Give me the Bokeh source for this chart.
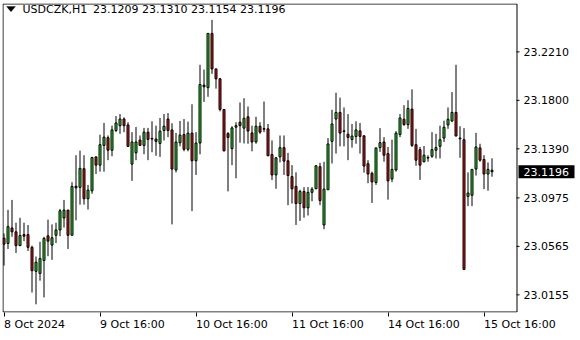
from bokeh.plotting import figure
from bokeh.core.properties import value
from bokeh.models import (FixedTicker, Range1d, Label, PolyAnnotation, LabelSet,
                          ColumnDataSource)
from bokeh.embed import file_html
from bokeh.resources import INLINE

symbol = "USDCZK,H1"
tick_bars = [0, 24, 48, 72, 96, 120]
tick_labels = ["8 Oct 2024", "9 Oct 16:00", "10 Oct 16:00", "11 Oct 16:00",
               "14 Oct 16:00", "15 Oct 16:00"]
price_ticks = [23.2210, 23.1800, 23.1390, 23.0975, 23.0565, 23.0155]

open_ = [23.0634, 23.0590, 23.0721, 23.0688, 23.0571, 23.0665, 23.0665, 23.0557, 23.0354, 23.0337,
         23.0446, 23.0654, 23.0576, 23.0659, 23.0704, 23.0805, 23.0872, 23.0659, 23.1074, 23.1064,
         23.1222, 23.0968, 23.1035, 23.1322, 23.1252, 23.1419, 23.1484, 23.1378, 23.1545, 23.1586,
         23.1642, 23.1592, 23.1261, 23.1356, 23.1464, 23.1419, 23.1531, 23.1478, 23.1473, 23.1436,
         23.1545, 23.1642, 23.1550, 23.1211, 23.1442, 23.1511, 23.1386, 23.1523, 23.1289, 23.1439,
         23.1929, 23.1907, 23.2366, 23.2066, 23.1982, 23.1723, 23.1519, 23.1392, 23.1573, 23.1615,
         23.1565, 23.1661, 23.1525, 23.1448, 23.1581, 23.1561, 23.1559, 23.1342, 23.1169, 23.1322,
         23.1400, 23.1289, 23.1155, 23.1072, 23.0927, 23.1030, 23.0891, 23.1022, 23.1052, 23.1239,
         23.0746, 23.1044, 23.1453, 23.1642, 23.1698, 23.1542, 23.1514, 23.1469, 23.1495, 23.1542,
         23.1500, 23.1264, 23.1183, 23.1105, 23.1400, 23.1448, 23.1350, 23.1135, 23.1211, 23.1511,
         23.1640, 23.1595, 23.1726, 23.1425, 23.1383, 23.1281, 23.1317, 23.1327, 23.1378, 23.1411,
         23.1481, 23.1592, 23.1626, 23.1698, 23.1481, 23.1467, 23.0988, 23.0997, 23.1219, 23.1398,
         23.1300, 23.1177, 23.1209]
high = [23.0674, 23.0874, 23.0958, 23.0765, 23.0807, 23.0765, 23.0746, 23.0571, 23.0479, 23.0604,
        23.0646, 23.0791, 23.0751, 23.0765, 23.0882, 23.0958, 23.0872, 23.1108, 23.1336, 23.1375,
        23.1336, 23.1085, 23.1322, 23.1322, 23.1509, 23.1609, 23.1503, 23.1586, 23.1667, 23.1684,
        23.1656, 23.1615, 23.1531, 23.1575, 23.1503, 23.1567, 23.1567, 23.1623, 23.1586, 23.1651,
        23.1684, 23.1692, 23.1606, 23.1525, 23.1626, 23.1642, 23.1620, 23.1767, 23.1531, 23.2101,
        23.2060, 23.2369, 23.2481, 23.2066, 23.1990, 23.1723, 23.1531, 23.1581, 23.1615, 23.1782,
        23.1818, 23.1748, 23.1586, 23.1661, 23.1615, 23.1790, 23.1600, 23.1461, 23.1322, 23.1503,
        23.1503, 23.1356, 23.1252, 23.1191, 23.1044, 23.1066, 23.1066, 23.1066, 23.1247, 23.1272,
        23.1281, 23.1481, 23.1720, 23.1865, 23.1823, 23.1740, 23.1684, 23.1600, 23.1623, 23.1609,
        23.1503, 23.1294, 23.1197, 23.1398, 23.1565, 23.1489, 23.1406, 23.1467, 23.1540, 23.1684,
        23.1759, 23.1801, 23.1893, 23.1559, 23.1406, 23.1414, 23.1336, 23.1531, 23.1517, 23.1586,
        23.1628, 23.1740, 23.1870, 23.2101, 23.1581, 23.1565, 23.1191, 23.1216, 23.1525, 23.1433,
        23.1336, 23.1275, 23.1310]
low = [23.0402, 23.0543, 23.0646, 23.0509, 23.0568, 23.0609, 23.0526, 23.0175, 23.0075, 23.0275,
       23.0133, 23.0482, 23.0451, 23.0593, 23.0651, 23.0724, 23.0543, 23.0659, 23.0785, 23.0918,
       23.0918, 23.0877, 23.1010, 23.1177, 23.1197, 23.1197, 23.1294, 23.1327, 23.1531, 23.1517,
       23.1531, 23.1411, 23.1119, 23.1294, 23.1419, 23.1344, 23.1294, 23.1361, 23.1331, 23.1322,
       23.1461, 23.1489, 23.0751, 23.1191, 23.1411, 23.1369, 23.1369, 23.0863, 23.1169, 23.1344,
       23.1787, 23.1830, 23.2024, 23.1899, 23.1707, 23.1372, 23.1030, 23.1252, 23.1141, 23.1442,
       23.1436, 23.1433, 23.1369, 23.1433, 23.1517, 23.1531, 23.1331, 23.1127, 23.1052, 23.1275,
       23.1169, 23.0913, 23.0927, 23.0746, 23.0780, 23.0807, 23.0826, 23.0947, 23.1052, 23.0913,
       23.0710, 23.1044, 23.1266, 23.1350, 23.1411, 23.1411, 23.1294, 23.1400, 23.1433, 23.1350,
       23.1189, 23.1099, 23.0932, 23.1085, 23.1364, 23.1281, 23.0960, 23.1108, 23.1197, 23.1489,
       23.1584, 23.1559, 23.1406, 23.1247, 23.1127, 23.1275, 23.1281, 23.1314, 23.1308, 23.1308,
       23.1448, 23.1559, 23.1615, 23.1498, 23.1314, 23.0370, 23.0905, 23.0905, 23.1164, 23.1281,
       23.1049, 23.1036, 23.1154]
close = [23.0584, 23.0732, 23.0688, 23.0571, 23.0657, 23.0651, 23.0557, 23.0359, 23.0431, 23.0462,
         23.0632, 23.0609, 23.0638, 23.0704, 23.0866, 23.0872, 23.0659, 23.1072, 23.1060, 23.1225,
         23.0968, 23.1041, 23.1317, 23.1252, 23.1425, 23.1489, 23.1378, 23.1550, 23.1609, 23.1642,
         23.1586, 23.1411, 23.1448, 23.1448, 23.1419, 23.1531, 23.1469, 23.1473, 23.1453, 23.1540,
         23.1581, 23.1545, 23.1219, 23.1448, 23.1506, 23.1386, 23.1523, 23.1289, 23.1439, 23.1934,
         23.1915, 23.2366, 23.2066, 23.1982, 23.1723, 23.1372, 23.1486, 23.1567, 23.1586, 23.1586,
         23.1648, 23.1540, 23.1448, 23.1581, 23.1531, 23.1556, 23.1331, 23.1169, 23.1314, 23.1400,
         23.1286, 23.1164, 23.1052, 23.0927, 23.1030, 23.0891, 23.1022, 23.1049, 23.1247, 23.0952,
         23.1049, 23.1431, 23.1600, 23.1698, 23.1523, 23.1537, 23.1486, 23.1498, 23.1550, 23.1495,
         23.1244, 23.1177, 23.1110, 23.1398, 23.1442, 23.1336, 23.1119, 23.1216, 23.1523, 23.1651,
         23.1595, 23.1732, 23.1419, 23.1294, 23.1252, 23.1336, 23.1312, 23.1383, 23.1400, 23.1467,
         23.1573, 23.1640, 23.1698, 23.1498, 23.1475, 23.0370, 23.1016, 23.1216, 23.1406, 23.1294,
         23.1177, 23.1216, 23.1196]

FONT = "DejaVu Sans"
UP = "#1FE01F"
DOWN = "#E01414"

W, H = 580, 340
BL, BR, BT, BB = 2, 5, 3, 24
CHART_W = 514          # width of the bordered chart area, in px
PX_PER_BAR = 4

n = len(open_)
src = ColumnDataSource(dict(
    x=list(range(n)),
    h=high, l=low,
    top=[max(o, c) for o, c in zip(open_, close)],
    bottom=[min(o, c) for o, c in zip(open_, close)],
    color=[UP if c >= o else DOWN for o, c in zip(open_, close)],
))

frame_w = W - BL - BR
frame_h = H - BT - BB
xr = Range1d(-0.375, -0.375 + frame_w / PX_PER_BAR)
yr = Range1d(23.00057, 23.26192)
edge = xr.start + CHART_W / PX_PER_BAR
y_per_px = (yr.end - yr.start) / frame_h

p = figure(width=W, height=H, output_backend="svg", toolbar_location=None,
           x_range=xr, y_range=yr, y_axis_location=None,
           min_border_left=BL, min_border_right=BR, min_border_top=BT, min_border_bottom=BB)

p.background_fill_color = "white"
p.border_fill_color = "white"
p.outline_line_color = None
p.xgrid.visible = False
p.ygrid.visible = False

# chart border (half a pixel inside the frame so that it is not clipped)
p.quad(left=xr.start + 0.5 / PX_PER_BAR, right=edge + 0.5 / PX_PER_BAR,
       bottom=yr.start + 0.5 * y_per_px, top=yr.end - 0.5 * y_per_px,
       fill_alpha=0, line_color="black", line_width=1)

# price scale: tick marks and labels on the chart's right edge
tsrc = ColumnDataSource(dict(x0=[edge] * len(price_ticks),
                             x1=[edge + 3 / PX_PER_BAR] * len(price_ticks),
                             y=price_ticks,
                             lx=[CHART_W + 7] * len(price_ticks),
                             t=[f"{v:.4f}" for v in price_ticks]))
p.segment(x0="x0", y0="y", x1="x1", y1="y", source=tsrc, line_color="black", line_width=1)
p.add_layout(LabelSet(x="lx", y="y", text="t", source=tsrc, x_units="screen",
                      text_font=value(FONT), text_font_size=value("11px"),
                      text_color="black", text_baseline="middle", text_align="left"))

xax = p.xaxis[0]
xax.ticker = FixedTicker(ticks=tick_bars)
xax.major_label_overrides = {b: t for b, t in zip(tick_bars, tick_labels)}
xax.axis_line_color = None
xax.major_tick_out = 4
xax.major_tick_in = 0
xax.minor_tick_out = 0
xax.minor_tick_in = 0
xax.major_tick_line_color = "black"
xax.major_label_standoff = 8
xax.major_label_orientation = -0.00001
xax.major_label_text_font = FONT
xax.major_label_text_font_size = "11px"
xax.major_label_text_color = "black"

p.segment(x0="x", y0="l", x1="x", y1="h", source=src, line_color="black", line_width=1)
p.vbar(x="x", width=0.5, top="top", bottom="bottom", source=src,
       fill_color="color", line_color="black", line_width=1)

# header
p.add_layout(PolyAnnotation(xs=[4, 13, 8.5], ys=[306, 306, 300.7],
                            xs_units="screen", ys_units="screen",
                            fill_color="black", fill_alpha=1, line_color="black", line_width=1))
p.add_layout(Label(x=20, y=303, x_units="screen", y_units="screen", text=symbol,
                   text_font=FONT, text_font_size="11px", text_color="black",
                   text_baseline="middle", text_align="left"))
hdr = f"{open_[-1]:.4f} {high[-1]:.4f} {low[-1]:.4f} {close[-1]:.4f}"
p.add_layout(Label(x=90.5, y=303, x_units="screen", y_units="screen", text=hdr,
                   text_font=FONT, text_font_size="11px", text_color="black",
                   text_baseline="middle", text_align="left"))

# current price marker: black box + white text
last = close[-1]
half_h = 6.5 * y_per_px
p.add_layout(PolyAnnotation(xs=[CHART_W + 2, CHART_W + 58, CHART_W + 58, CHART_W + 2],
                            ys=[last - half_h, last - half_h, last + half_h, last + half_h],
                            xs_units="screen", ys_units="data",
                            fill_color="black", fill_alpha=1, line_color=None))
p.add_layout(Label(x=CHART_W + 7, y=last, x_units="screen", y_units="data",
                   text=f"{last:.4f}", text_font=FONT, text_font_size="11px",
                   text_color="white", text_baseline="middle", text_align="left"))

open("out.html", "w").write(file_html(p, INLINE))
